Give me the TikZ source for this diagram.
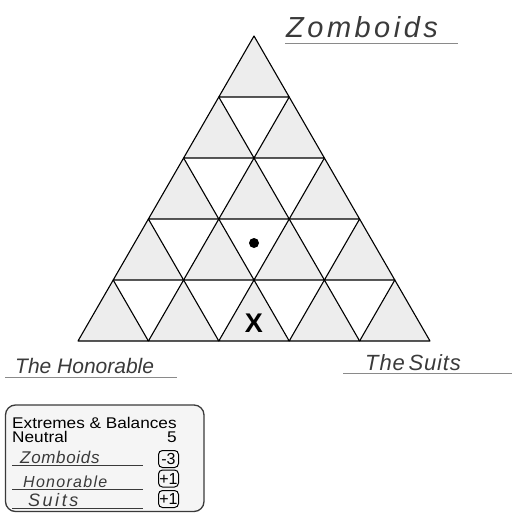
\documentclass[tikz,border=0pt]{standalone}
\usepackage{fontspec}
\setmainfont{Liberation Sans}
\newfontfamily\hand{Liberation Sans}
\newfontfamily\boxfont{Liberation Sans}[FakeStretch=1.11]
\definecolor{cellgray}{HTML}{EDEDED}
\definecolor{boxgray}{HTML}{F5F5F5}
\definecolor{ink}{HTML}{3A3A3A}
\definecolor{rule}{HTML}{8A8A8A}
\begin{document}
\begin{tikzpicture}[x=1pt,y=-1pt,
  cell/.style={fill=cellgray,draw=black,line width=1.1pt,line join=round},
  handtext/.style={inner sep=0pt,anchor=base west,text=ink},
  uline/.style={draw=rule,line width=1pt},
  badge/.style={draw=black,line width=1pt,rounded corners=4pt,minimum width=20pt,minimum height=17pt,inner sep=0pt,font=\hand\fontsize{16}{16}\selectfont},
  plain/.style={inner sep=0pt,anchor=base west,font=\boxfont\fontsize{15.5}{15.5}\selectfont}]
\useasboundingbox (0,0) rectangle (512,514);
% triangle grid
\foreach \k in {0,...,4}{
  \foreach \j in {0,...,\k}{
    \pgfmathsetmacro{\ax}{254-35.2*\k+70.4*\j}
    \pgfmathsetmacro{\ay}{36+61*\k}
    \path[cell] (\ax,\ay) -- (\ax-35.2,\ay+61) -- (\ax+35.2,\ay+61) -- cycle;
  }
}
\fill[black] (254,243) circle (5pt);
\node[inner sep=0pt,anchor=base,font=\bfseries\fontsize{27}{27}\selectfont] (xmark) at (254,332) {X};
% title
\node[handtext,text=ink,font=\hand\itshape\fontsize{29}{29}\selectfont\addfontfeature{LetterSpace=12}] (title) at (286,37) {Zomboids};
\coordinate (t1) at (285,43); \coordinate (t2) at (458,43);
\draw[uline] (t1) -- (t2);
% side labels
\node[handtext,font=\hand\itshape\fontsize{21}{21}\selectfont] (hon) at (15,373) {The Honorable};
\coordinate (h1) at (5,377); \coordinate (h2) at (177,377);
\draw[uline] (h1) -- (h2);
\node[handtext,font=\hand\itshape\fontsize{22}{22}\selectfont\addfontfeature{LetterSpace=4}] (suits) at (365,370) {The\,Suits};
\coordinate (s1) at (343,373); \coordinate (s2) at (512,373);
\draw[uline] (s1) -- (s2);
% box
\draw[draw=ink,fill=boxgray,line width=1.3pt,rounded corners=10pt] (5.5,405) rectangle (204,511.5);
\node[plain] (eb) at (12,428) {Extremes \& Balances};
\node[plain] (neu) at (12,442) {Neutral};
\node[plain,anchor=base] (five) at (172,442) {5};
\node[handtext,font=\hand\itshape\fontsize{17}{17}\selectfont\addfontfeature{LetterSpace=4}] (bz) at (20,463) {Zomboids};
\node[handtext,font=\hand\itshape\fontsize{16}{16}\selectfont\addfontfeature{LetterSpace=8}] (bh) at (23,487) {Honorable};
\node[handtext,font=\hand\itshape\fontsize{18}{18}\selectfont\addfontfeature{LetterSpace=14}] (bs) at (28,506) {Suits};
\coordinate (l1a) at (12,465); \coordinate (l1b) at (143,465);
\coordinate (l2a) at (12,489); \coordinate (l2b) at (143,489);
\coordinate (l3a) at (12,508); \coordinate (l3b) at (143,508);
\draw[draw=ink,line width=0.9pt] (l1a) -- (l1b);
\draw[draw=ink,line width=0.9pt] (l2a) -- (l2b);
\draw[draw=ink,line width=0.9pt] (l3a) -- (l3b);
\node[badge] (b1) at (168.5,459) {-3};
\node[badge] (b2) at (168.5,478.5) {+1};
\node[badge] (b3) at (168.5,499) {+1};
\end{tikzpicture}
\end{document}
